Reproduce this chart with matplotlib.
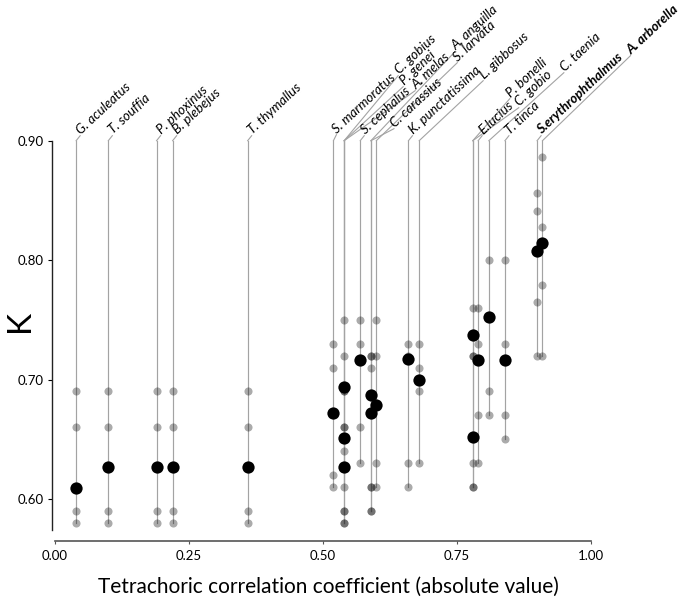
import matplotlib
matplotlib.use("Agg")
import matplotlib.pyplot as plt
import matplotlib.transforms as mtransforms
from matplotlib.lines import Line2D

# ---------------- data ----------------
species = ["G. aculeatus", "T. souffia", "P. phoxinus", "B. plebejus", "T. thymallus",
           "S. marmoratus", "C. gobius", "P. genei", "A. melas", "S. cephalus",
           "A. anguilla", "C. carassius", "S. larvata", "K. punctatissima", "L. gibbosus",
           "E.lucius", "P. bonelli", "C. gobio", "C. taenia", "T. tinca",
           "S.erythrophthalmus", "A. arborella"]
tetra = [0.04, 0.10, 0.19, 0.22, 0.36,
         0.52, 0.54, 0.54, 0.54, 0.57,
         0.59, 0.59, 0.60, 0.66, 0.68,
         0.79, 0.78, 0.78, 0.81, 0.84,
         0.90, 0.91]
k_obs = [0.609, 0.627, 0.627, 0.627, 0.627,
         0.672, 0.694, 0.651, 0.627, 0.716,
         0.687, 0.672, 0.679, 0.717, 0.700,
         0.716, 0.737, 0.652, 0.752, 0.716,
         0.808, 0.814]
k_other = [
    [0.69, 0.66, 0.59, 0.58],
    [0.69, 0.66, 0.59, 0.58],
    [0.69, 0.66, 0.59, 0.58],
    [0.69, 0.66, 0.59, 0.58],
    [0.69, 0.66, 0.59, 0.58],
    [0.73, 0.71, 0.62, 0.61],
    [0.75, 0.69, 0.66, 0.59, 0.58],
    [0.72, 0.69, 0.66, 0.59, 0.58],
    [0.64, 0.61],
    [0.75, 0.73, 0.66, 0.63],
    [0.72, 0.71, 0.61, 0.59],
    [0.72, 0.61, 0.59],
    [0.75, 0.72, 0.63, 0.61],
    [0.73, 0.72, 0.63, 0.61],
    [0.73, 0.71, 0.69, 0.63],
    [0.76, 0.73, 0.67, 0.63],
    [0.76, 0.72, 0.63, 0.61],
    [0.72, 0.61],
    [0.80, 0.69, 0.67],
    [0.80, 0.73, 0.67, 0.65],
    [0.856, 0.841, 0.765, 0.72],
    [0.886, 0.828, 0.779, 0.72],
]
bold_species = ["S.erythrophthalmus", "A. arborella"]
xticks = [0.0, 0.25, 0.50, 0.75, 1.0]
xtick_labels = ["0.00", "0.25", "0.50", "0.75", "1.00"]
yticks = [0.60, 0.70, 0.80, 0.90]
ytick_labels = ["0.60", "0.70", "0.80", "0.90"]

# label leader offsets (pixels right / up, from the top of each stem)
label_offsets = {
    "S. marmoratus": (3, 6),
    "C. gobius": (54, 65),
    "P. genei": (59, 54),
    "A. melas": (71, 50),
    "A. anguilla": (84, 89),
    "C. carassius": (23, 12),
    "S. larvata": (81, 78),
    "L. gibbosus": (64, 60),
    "P. bonelli": (37, 42),
    "C. gobio": (46, 33),
    "C. taenia": (75, 68),
    "A. arborella": (88, 85),
}
default_offset = (4, 5)

FONT = "Lato"
plt.rcParams["font.family"] = [FONT, "DejaVu Sans"]

fig = plt.figure(figsize=(6.85, 5.99), dpi=100)
W, H = 685, 599
ax = fig.add_axes([52.3 / W, (H - 530) / H, (590.7 - 52.3) / W, (530 - 140.7) / H])
ax.set_xlim(-0.0045, 1.0)
ax.set_ylim(0.574, 0.90)
ytop = 0.90

stem_color = "#a3a3a3"
for name, x, obs, oth in zip(species, tetra, k_obs, k_other):
    ymin = min(oth + [obs])
    ax.plot([x, x], [ymin, ytop], color=stem_color, lw=0.85, zorder=1, clip_on=False)
    ax.scatter([x] * len(oth), oth, s=34, color="black", alpha=0.33, lw=0, zorder=2)

ax.scatter(tetra, k_obs, s=78, color="black", lw=0, zorder=3)

# labels with leaders
fig.canvas.draw()
for name, x in zip(species, tetra):
    dx, dy = label_offsets.get(name, default_offset)
    x0, y0 = ax.transData.transform((x, ytop))
    x1, y1 = x0 + dx, y0 + dy
    fig.add_artist(Line2D([x0, x1], [y0, y1], transform=mtransforms.IdentityTransform(),
                          color=stem_color, lw=0.8))
    bold = name in bold_species
    fig.text(x1 + 1, y1 + 1, name, transform=mtransforms.IdentityTransform(),
             rotation=43, rotation_mode="anchor", ha="left", va="baseline",
             fontsize=9.6, style="italic", fontweight="bold" if bold else "normal",
             color="black")

# axes styling
for s in ["top", "right"]:
    ax.spines[s].set_visible(False)
ax.spines["bottom"].set_position(("outward", 8))
ax.spines["bottom"].set_bounds(0, 1.0)
ax.spines["bottom"].set_color("#555555")
ax.spines["bottom"].set_linewidth(1.2)
ax.spines["left"].set_color("#222222")
ax.spines["left"].set_linewidth(1.0)

ax.set_xticks(xticks)
ax.set_xticklabels(xtick_labels, fontsize=9.5)
ax.set_yticks(yticks)
ax.set_yticklabels(ytick_labels, fontsize=9.5)
ax.tick_params(axis="x", length=2.5, width=0.8, color="#555555", pad=4)
ax.tick_params(axis="y", length=3, width=0.8, pad=3)

fig.text(20 / W, 1 - 321 / H, "K", fontsize=24, rotation=90, ha="center", va="center")
ax.set_xlabel("Tetrachoric correlation coefficient (absolute value)", fontsize=15)
ax.xaxis.set_label_coords((328 - 52.3) / (590.7 - 52.3), -(577 - 530) / (530 - 140.7))

fig.savefig("out.png", dpi=100)
